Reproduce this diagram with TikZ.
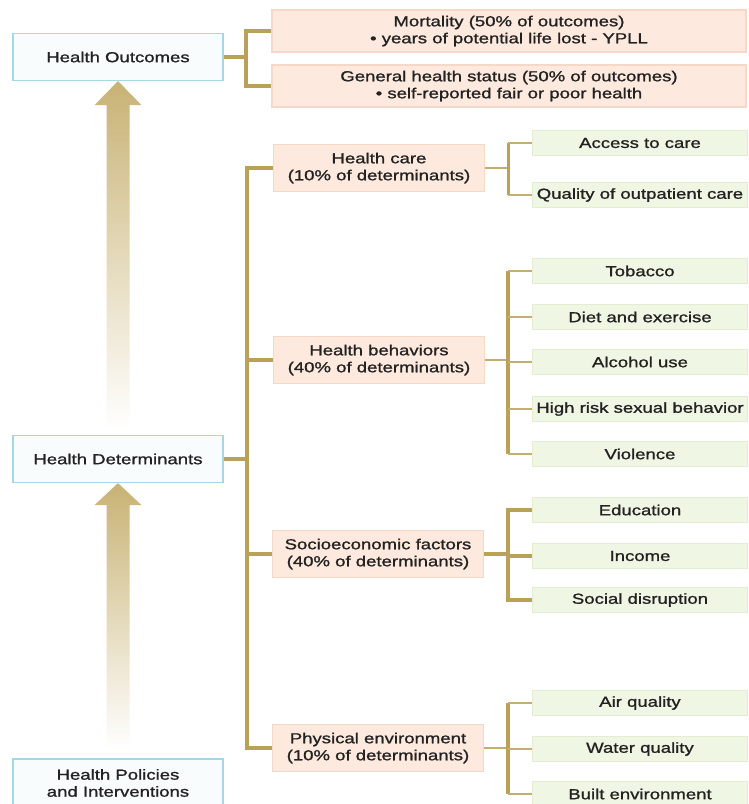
\documentclass[tikz,border=0pt]{standalone}
\usepackage{fontspec}
\setmainfont{Liberation Sans}[FakeStretch=1.28,FakeBold=1.2]
\definecolor{txt}{HTML}{222222}
\definecolor{bluebd}{HTML}{A6D6E8}
\definecolor{bluefill}{HTML}{F8FCFD}
\definecolor{peachbd}{HTML}{F6D8C8}
\definecolor{peachfill}{HTML}{FDE9DD}
\definecolor{greenbd}{HTML}{E2EDD2}
\definecolor{greenfill}{HTML}{F0F6E4}
\definecolor{goldc}{HTML}{B9A257}
\definecolor{arrowc}{HTML}{C8B274}
\tikzset{
  box/.style={draw, line width=1.2pt, inner sep=0pt, align=center,
    font=\fontsize{14.5}{17}\selectfont, text=txt},
  bluebox/.style={box, draw=bluebd, fill=bluefill, minimum width=210pt, minimum height=47pt},
  peachbox/.style={box, draw=peachbd, fill=peachfill},
  outbox/.style={peachbox, minimum width=474pt, minimum height=42pt},
  branchbox/.style={peachbox, minimum width=211pt, minimum height=47pt},
  leafbox/.style={box, draw=greenbd, fill=greenfill, minimum width=215pt, minimum height=25pt},
  goldline/.style={draw=goldc, line width=3.5pt},
  goldthin/.style={draw=goldc!85, line width=1.6pt},
  bigarrow/.style={top color=arrowc, middle color=arrowc!35, bottom color=white, draw=none},
}
\begin{document}
\begin{tikzpicture}[x=1pt,y=-1pt]
\useasboundingbox (0,0) rectangle (749,804);
\clip (0,0) rectangle (749,804);
\fill[white] (0,0) rectangle (749,804);

% left column
\node[bluebox] (ho) at (118,57) {Health Outcomes};
\node[bluebox] (hd) at (118,459) {Health Determinants};
\node[bluebox, minimum height=48pt] (hp) at (118,783) {Health Policies\\and Interventions};

% big fading arrows
\shade[bigarrow] (ho.south) -- ++(23.5,24) -- ++(-12,0) -- ++(0,325) -- ++(-23,0)
  -- ++(0,-325) -- ++(-12,0) -- cycle;
\shade[bigarrow] (hd.south) -- ++(23.5,22) -- ++(-12,0) -- ++(0,245) -- ++(-23,0)
  -- ++(0,-245) -- ++(-12,0) -- cycle;

% outcomes
\node[outbox] (mo) at (509,31) {Mortality (50\% of outcomes)\\\textbullet\ years of potential life lost - YPLL};
\node[outbox] (gh) at (509,86) {General health status (50\% of outcomes)\\\textbullet\ self-reported fair or poor health};

% determinant branches
\node[branchbox] (hc) at (379,168) {Health care\\(10\% of determinants)};
\node[branchbox] (hb) at (379,360) {Health behaviors\\(40\% of determinants)};
\node[branchbox] (se) at (378,554) {Socioeconomic factors\\(40\% of determinants)};
\node[branchbox] (pe) at (378,748) {Physical environment\\(10\% of determinants)};

% leaves
\node[leafbox] (ac) at (640,143) {Access to care};
\node[leafbox] (qc) at (640,195) {Quality of outpatient care};
\node[leafbox] (tob) at (640,271) {Tobacco};
\node[leafbox] (die) at (640,317) {Diet and exercise};
\node[leafbox] (alc) at (640,362) {Alcohol use};
\node[leafbox] (hrs) at (640,409) {High risk sexual behavior};
\node[leafbox] (vio) at (640,454) {Violence};
\node[leafbox] (edu) at (640,510) {Education};
\node[leafbox] (inc) at (640,556) {Income};
\node[leafbox] (soc) at (640,600) {Social disruption};
\node[leafbox] (air) at (640,703) {Air quality};
\node[leafbox] (wat) at (640,749) {Water quality};
\node[leafbox] (blt) at (640,794) {Built environment};

% connector columns
\coordinate (ob) at (246,0);
\coordinate (tk) at (247,0);
\coordinate (sb) at (508,0);

% outcomes bracket
\draw[goldline] (ho.east) -- (ho.east -| ob);
\draw[goldline] (mo.west) -- (mo.west -| ob) -- (gh.west -| ob) -- (gh.west);

% trunk
\draw[goldline] (hc.west) -- (hc.west -| tk) -- (pe.west -| tk) -- (pe.west);
\draw[goldline] (hb.west) -- (hb.west -| tk);
\draw[goldline] (se.west) -- (se.west -| tk);
\draw[goldline] (hd.east) -- (hd.east -| tk);

% health care bracket
\draw[goldthin] (hc.east) -- (hc.east -| sb);
\draw[goldline, line width=3pt] (ac.west -| sb) -- (qc.west -| sb);
\draw[goldthin] (ac.west -| sb) -- (ac.west);
\draw[goldthin] (qc.west -| sb) -- (qc.west);

% health behaviors bracket
\draw[goldthin] (hb.east) -- (hb.east -| sb);
\draw[goldline] (tob.west -| sb) -- (vio.west -| sb);
\foreach \n in {tob,die,alc,hrs,vio}
  \draw[goldthin] (\n.west -| sb) -- (\n.west);

% socioeconomic bracket
\draw[goldline] (se.east) -- (se.east -| sb);
\draw[goldline] (edu.west) -- (edu.west -| sb) -- (soc.west -| sb) -- (soc.west);
\draw[goldline] (inc.west -| sb) -- (inc.west);

% physical environment bracket
\draw[goldthin] (pe.east) -- (pe.east -| sb);
\draw[goldline] (air.west -| sb) -- (blt.west -| sb);
\foreach \n in {air,wat,blt}
  \draw[goldthin] (\n.west -| sb) -- (\n.west);
\end{tikzpicture}
\end{document}
